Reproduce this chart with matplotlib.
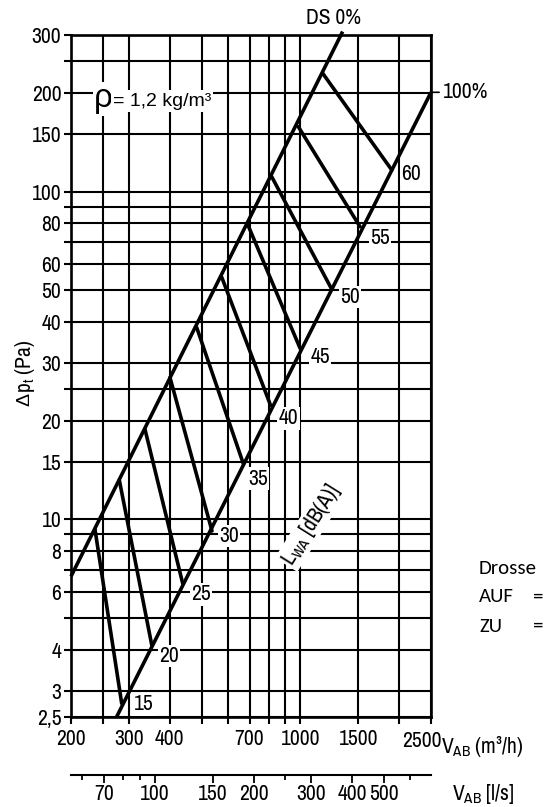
import matplotlib
matplotlib.use('Agg')
import matplotlib.pyplot as plt
from matplotlib.ticker import FixedLocator, FixedFormatter, NullLocator, NullFormatter

plt.rcParams['font.family'] = ['Archivo Narrow', 'DejaVu Sans']
plt.rcParams['mathtext.fontset'] = 'custom'
plt.rcParams['mathtext.rm'] = 'Archivo Narrow'
plt.rcParams['mathtext.it'] = 'Archivo Narrow:italic'
plt.rcParams['mathtext.bf'] = 'Archivo Narrow:bold'

# ---------------- data ----------------
vol_ticks = [200, 250, 300, 400, 500, 600, 700, 800, 900, 1000, 1500, 2000, 2500]
vol_labels = ['200', '', '300', '400', '', '', '700', '', '', '1000', '1500', '', '']
dp_ticks = [2.5, 3, 4, 5, 6, 7, 8, 9, 10, 15, 20, 25, 30, 40, 50, 60, 70, 80, 90,
            100, 150, 200, 250, 300]
dp_labels = ['2,5', '3', '4', '', '6', '', '8', '', '10', '15', '20', '', '30', '40',
             '50', '60', '', '80', '', '100', '150', '200', '', '300']
ls_major = [70, 100, 150, 200, 300, 400, 500]
ls_minor = [60, 80, 90, 250, 600]

# throttle positions (boundary lines)
ds0_v = [200, 1345]
ds0_p = [6.7, 308]
full_v = [275.6, 2500]
full_p = [2.5, 201]

# sound power level lines L_WA [dB(A)]
db_levels = [15, 20, 25, 30, 35, 40, 45, 50, 55, 60]
db_v_start = [236.6, 280.6, 336.2, 400.5, 483.1, 575.9, 690.6, 817.6, 985.7, 1169.5]
db_p_start = [9.33, 13.2, 18.8, 27.1, 38.5, 54.8, 79.5, 111.1, 157.8, 229.7]
db_v_end = [285.4, 352.4, 437.8, 537.8, 669.9, 810.9, 997.4, 1245.6, 1519, 1898.7]
db_p_end = [2.745, 4.14, 6.38, 9.22, 14.8, 22.3, 33.3, 50.4, 78.2, 116.4]

# label offsets (pixels, right / down) -- style only
lab_off = [(22, 1), (17, 11), (18, 11), (17, 5), (15, 15), (18, 13), (20, 9), (18, 8), (20, 11), (19, 4)]

# ---------------- figure ----------------
W, H = 545, 807
fig = plt.figure(figsize=(W / 100, H / 100), dpi=100)


def fx(px):
    return px / W


def fy(py):
    return 1 - py / H


FS = 15.5

ax = fig.add_axes([fx(71), fy(716.7), (431 - 71) / W, (716.7 - 35.3) / H])
ax.set_xscale('log')
ax.set_yscale('log')
ax.set_xlim(200, 2500)
ax.set_ylim(2.5, 300)

ax.xaxis.set_major_locator(FixedLocator(vol_ticks))
ax.xaxis.set_major_formatter(FixedFormatter(vol_labels))
ax.xaxis.set_minor_locator(NullLocator())
ax.xaxis.set_minor_formatter(NullFormatter())
ax.yaxis.set_major_locator(FixedLocator(dp_ticks))
ax.yaxis.set_major_formatter(FixedFormatter(dp_labels))
ax.yaxis.set_minor_locator(NullLocator())
ax.yaxis.set_minor_formatter(NullFormatter())

ax.set_axisbelow(True)
ax.grid(True, which='major', color='black', lw=1.5)
ax.tick_params(axis='both', which='major', length=5, width=1.5, labelsize=FS, color='black')
ax.tick_params(axis='x', pad=4)
ax.tick_params(axis='y', pad=2)
for s in ax.spines.values():
    s.set_linewidth(1.9)

# boundary lines
ax.plot(ds0_v, ds0_p, color='black', lw=2.6, solid_capstyle='butt', clip_on=False, zorder=3)
ax.plot(full_v, full_p, color='black', lw=2.6, solid_capstyle='butt', clip_on=False, zorder=3)

# dB lines
for lev, v0, p0, v1, p1, (dx, dy) in zip(db_levels, db_v_start, db_p_start,
                                         db_v_end, db_p_end, lab_off):
    ax.plot([v0, v1], [p0, p1], color='black', lw=2.6, solid_capstyle='round', zorder=3)
    ax.annotate(str(lev), xy=(v1, p1), xytext=(dx, -dy), textcoords='offset pixels',
                ha='center', va='center', fontsize=FS, zorder=5,
                bbox=dict(facecolor='white', edgecolor='none', pad=1))

# 100% label
ax.annotate('100%', xy=(2500, 201), xytext=(35, 0), textcoords='offset pixels',
            ha='center', va='center', fontsize=FS, annotation_clip=False,
            arrowprops=dict(arrowstyle='-', lw=1.2, color='black', shrinkA=1, shrinkB=0))

# DS 0% label
fig.text(fx(333), fy(18), 'DS 0%', ha='center', va='center', fontsize=FS)

# last x tick label shifted left
fig.text(fx(421.5), fy(741), '2500', ha='center', va='center', fontsize=FS)

# density text
fig.text(fx(94), fy(99), 'ρ', ha='left', va='center', fontsize=24,
         family=['Liberation Sans', 'DejaVu Sans'],
         bbox=dict(facecolor='white', edgecolor='none', pad=1))
fig.text(fx(113), fy(101), '= 1,2 kg/m³', ha='left', va='center', fontsize=14,
         family=['Liberation Sans', 'DejaVu Sans'],
         bbox=dict(facecolor='white', edgecolor='none', pad=1.5))

# L_WA label
fig.text(fx(311), fy(525), r'L$_{\mathrm{WA}}$ [dB(A)]', ha='center', va='center',
         fontsize=FS, rotation=58, rotation_mode='anchor',
         bbox=dict(facecolor='white', edgecolor='none', pad=1))

# axis labels
fig.text(fx(25), fy(399), 'Δ', ha='center', va='center', fontsize=14, rotation=90,
         family=['Liberation Sans', 'DejaVu Sans'])
fig.text(fx(25), fy(366), r'p$_{\mathrm{t}}$ (Pa)', ha='center', va='center',
         fontsize=FS, rotation=90)
fig.text(fx(441), fy(753), r'V$_{\mathrm{AB}}$ (m³/h)', ha='left', va='baseline', fontsize=FS)
fig.text(fx(452), fy(800), r'V$_{\mathrm{AB}}$ [l/s]', ha='left', va='baseline', fontsize=FS)

# secondary axis in l/s
sec = ax.secondary_xaxis(-0.085, functions=(lambda v: v / 3.6, lambda q: q * 3.6))
sec.xaxis.set_major_locator(FixedLocator(ls_major))
sec.xaxis.set_major_formatter(FixedFormatter([str(q) for q in ls_major]))
sec.xaxis.set_minor_locator(FixedLocator(ls_minor))
sec.xaxis.set_minor_formatter(NullFormatter())
sec.tick_params(which='major', length=6, width=1.3, labelsize=FS, pad=1)
sec.tick_params(which='minor', length=3.5, width=1.3)
sec.spines['bottom'].set_linewidth(1.5)

# Drosse legend text
dfam = ['Carlito', 'Lato', 'DejaVu Sans']
for txt, y in [('Drosse', 568), ('AUF', 597), ('ZU', 626)]:
    fig.text(fx(479), fy(y), txt, ha='left', va='center', fontsize=15, family=dfam)
for y in [597, 626]:
    fig.text(fx(533), fy(y), '=', ha='left', va='center', fontsize=15, family=dfam)

fig.savefig('out.png', dpi=100)
